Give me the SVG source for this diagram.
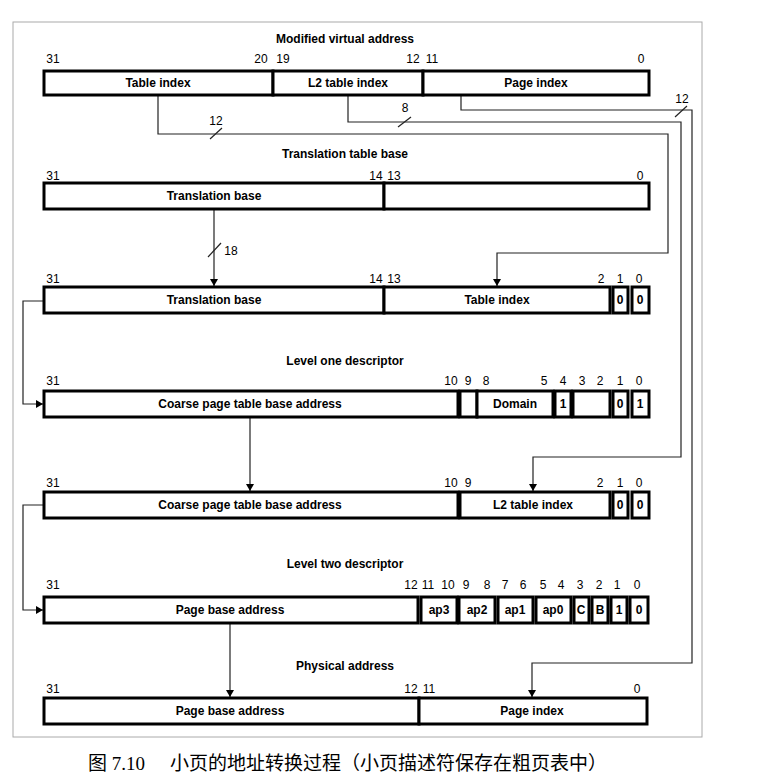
<svg xmlns="http://www.w3.org/2000/svg" width="769" height="783" viewBox="0 0 769 783">
<style>
.box{fill:#fff;stroke:#000;stroke-width:3}
.lbl{font-family:"Liberation Sans",Arial,sans-serif;font-weight:bold;font-size:12px;text-anchor:middle;fill:#000}
.bit{font-family:"Liberation Sans",Arial,sans-serif;font-size:12px;text-anchor:middle;fill:#000}
.title{font-family:"Liberation Sans",Arial,sans-serif;font-weight:bold;font-size:12px;text-anchor:middle;fill:#000}
.wire{fill:none;stroke:#222;stroke-width:1.2}
.slash{stroke:#222;stroke-width:1.2}
.frame{fill:none;stroke:#aaa;stroke-width:1}
.cap{font-family:"Liberation Serif","Noto Sans CJK SC",serif;font-size:19px;fill:#000}
</style>
<defs>
<marker id="arr" markerWidth="8" markerHeight="8" refX="7" refY="4" orient="auto" markerUnits="userSpaceOnUse">
<path d="M0,0 L7,4 L0,8 Z" fill="#000"/>
</marker>
</defs>
<rect width="769" height="783" fill="#fff"/>
<rect class="frame" x="13" y="22" width="689" height="715"/>

<g id="connectors">
<path class="wire" d="M158 95 V134 H668 V253 H497 V286" marker-end="url(#arr)"/>
<path class="wire" d="M348 95 V122 H681 V457 H533 V491" marker-end="url(#arr)"/>
<path class="wire" d="M461 95 V110 H692 V663 H532 V697" marker-end="url(#arr)"/>
<path class="wire" d="M214 209 V286" marker-end="url(#arr)"/>
<path class="wire" d="M44 301 H23 V404 H43" marker-end="url(#arr)"/>
<path class="wire" d="M250 417 V491" marker-end="url(#arr)"/>
<path class="wire" d="M44 505 H23 V610 H43" marker-end="url(#arr)"/>
<path class="wire" d="M230 623 V697" marker-end="url(#arr)"/>
<line class="slash" x1="210" y1="139" x2="222" y2="128"/>
<text class="bit" x="216" y="125">12</text>
<line class="slash" x1="398" y1="127" x2="411" y2="117"/>
<text class="bit" x="405" y="112">8</text>
<line class="slash" x1="675" y1="117" x2="687" y2="106"/>
<text class="bit" x="682" y="103">12</text>
<line class="slash" x1="208" y1="257" x2="221" y2="243"/>
<text class="bit" x="231" y="255">18</text>
</g>

<g id="row1">
<text class="title" x="345" y="43">Modified virtual address</text>
<text class="bit" x="53" y="63">31</text>
<text class="bit" x="261" y="63">20</text>
<text class="bit" x="283" y="63">19</text>
<text class="bit" x="413" y="63">12</text>
<text class="bit" x="432" y="63">11</text>
<text class="bit" x="641" y="63">0</text>
<rect class="box" x="44" y="71" width="229" height="24"/>
<rect class="box" x="273" y="71" width="150" height="24"/>
<rect class="box" x="423" y="71" width="226" height="24"/>
<text class="lbl" x="158" y="87">Table index</text>
<text class="lbl" x="348" y="87">L2 table index</text>
<text class="lbl" x="536" y="87">Page index</text>
</g>

<g id="row2">
<text class="title" x="345" y="158">Translation table base</text>
<text class="bit" x="53" y="180">31</text>
<text class="bit" x="376" y="180">14</text>
<text class="bit" x="394" y="180">13</text>
<text class="bit" x="640" y="180">0</text>
<rect class="box" x="44" y="183" width="340" height="26"/>
<rect class="box" x="384" y="183" width="265" height="26"/>
<text class="lbl" x="214" y="200">Translation base</text>
</g>

<g id="row3">
<text class="bit" x="53" y="283">31</text>
<text class="bit" x="376" y="283">14</text>
<text class="bit" x="394" y="283">13</text>
<text class="bit" x="601" y="283">2</text>
<text class="bit" x="620" y="283">1</text>
<text class="bit" x="639" y="283">0</text>
<rect class="box" x="44" y="287" width="340" height="26"/>
<rect class="box" x="384" y="287" width="226" height="26"/>
<rect class="box" x="613" y="287" width="15" height="26"/>
<rect class="box" x="632" y="287" width="17" height="26"/>
<text class="lbl" x="214" y="304">Translation base</text>
<text class="lbl" x="497" y="304">Table index</text>
<text class="lbl" x="620" y="304">0</text>
<text class="lbl" x="640" y="304">0</text>
</g>

<g id="row4">
<text class="title" x="345" y="365">Level one descriptor</text>
<text class="bit" x="53" y="385">31</text>
<text class="bit" x="451" y="385">10</text>
<text class="bit" x="468" y="385">9</text>
<text class="bit" x="486" y="385">8</text>
<text class="bit" x="544" y="385">5</text>
<text class="bit" x="563" y="385">4</text>
<text class="bit" x="582" y="385">3</text>
<text class="bit" x="600" y="385">2</text>
<text class="bit" x="620" y="385">1</text>
<text class="bit" x="639" y="385">0</text>
<rect class="box" x="44" y="391" width="414" height="26"/>
<rect class="box" x="460" y="391" width="17" height="26"/>
<rect class="box" x="477" y="391" width="76" height="26"/>
<rect class="box" x="555" y="391" width="16" height="26"/>
<rect class="box" x="573" y="391" width="37" height="26"/>
<rect class="box" x="613" y="391" width="15" height="26"/>
<rect class="box" x="632" y="391" width="17" height="26"/>
<text class="lbl" x="250" y="408">Coarse page table base address</text>
<text class="lbl" x="515" y="408">Domain</text>
<text class="lbl" x="563" y="408">1</text>
<text class="lbl" x="620" y="408">0</text>
<text class="lbl" x="640" y="408">1</text>
</g>

<g id="row5">
<text class="bit" x="53" y="487">31</text>
<text class="bit" x="451" y="487">10</text>
<text class="bit" x="468" y="487">9</text>
<text class="bit" x="600" y="487">2</text>
<text class="bit" x="620" y="487">1</text>
<text class="bit" x="639" y="487">0</text>
<rect class="box" x="44" y="492" width="414" height="26"/>
<rect class="box" x="460" y="492" width="150" height="26"/>
<rect class="box" x="613" y="492" width="15" height="26"/>
<rect class="box" x="632" y="492" width="17" height="26"/>
<text class="lbl" x="250" y="509">Coarse page table base address</text>
<text class="lbl" x="533" y="509">L2 table index</text>
<text class="lbl" x="620" y="509">0</text>
<text class="lbl" x="640" y="509">0</text>
</g>

<g id="row6">
<text class="title" x="345" y="568">Level two descriptor</text>
<text class="bit" x="53" y="589">31</text>
<text class="bit" x="411" y="589">12</text>
<text class="bit" x="428" y="589">11</text>
<text class="bit" x="448" y="589">10</text>
<text class="bit" x="466" y="589">9</text>
<text class="bit" x="487" y="589">8</text>
<text class="bit" x="505" y="589">7</text>
<text class="bit" x="523" y="589">6</text>
<text class="bit" x="543" y="589">5</text>
<text class="bit" x="561" y="589">4</text>
<text class="bit" x="580" y="589">3</text>
<text class="bit" x="599" y="589">2</text>
<text class="bit" x="617" y="589">1</text>
<text class="bit" x="637" y="589">0</text>
<rect class="box" x="44" y="597" width="374" height="26"/>
<rect class="box" x="421" y="597" width="36" height="26"/>
<rect class="box" x="459" y="597" width="36" height="26"/>
<rect class="box" x="498" y="597" width="35" height="26"/>
<rect class="box" x="536" y="597" width="35" height="26"/>
<rect class="box" x="574" y="597" width="15" height="26"/>
<rect class="box" x="592" y="597" width="16" height="26"/>
<rect class="box" x="611" y="597" width="16" height="26"/>
<rect class="box" x="630" y="597" width="18" height="26"/>
<text class="lbl" x="230" y="614">Page base address</text>
<text class="lbl" x="439" y="614">ap3</text>
<text class="lbl" x="477" y="614">ap2</text>
<text class="lbl" x="515" y="614">ap1</text>
<text class="lbl" x="553" y="614">ap0</text>
<text class="lbl" x="581" y="614">C</text>
<text class="lbl" x="600" y="614">B</text>
<text class="lbl" x="619" y="614">1</text>
<text class="lbl" x="639" y="614">0</text>
</g>

<g id="row7">
<text class="title" x="345" y="670">Physical address</text>
<text class="bit" x="53" y="693">31</text>
<text class="bit" x="411" y="693">12</text>
<text class="bit" x="429" y="693">11</text>
<text class="bit" x="637" y="693">0</text>
<rect class="box" x="44" y="698" width="375" height="26"/>
<rect class="box" x="419" y="698" width="228" height="26"/>
<text class="lbl" x="230" y="715">Page base address</text>
<text class="lbl" x="532" y="715">Page index</text>
</g>

<g id="caption">
<text class="cap" y="770"><tspan x="88">图 7.10</tspan><tspan x="170">小页的地址转换过程（小页描述符保存在粗页表中）</tspan></text>
</g>
</svg>
